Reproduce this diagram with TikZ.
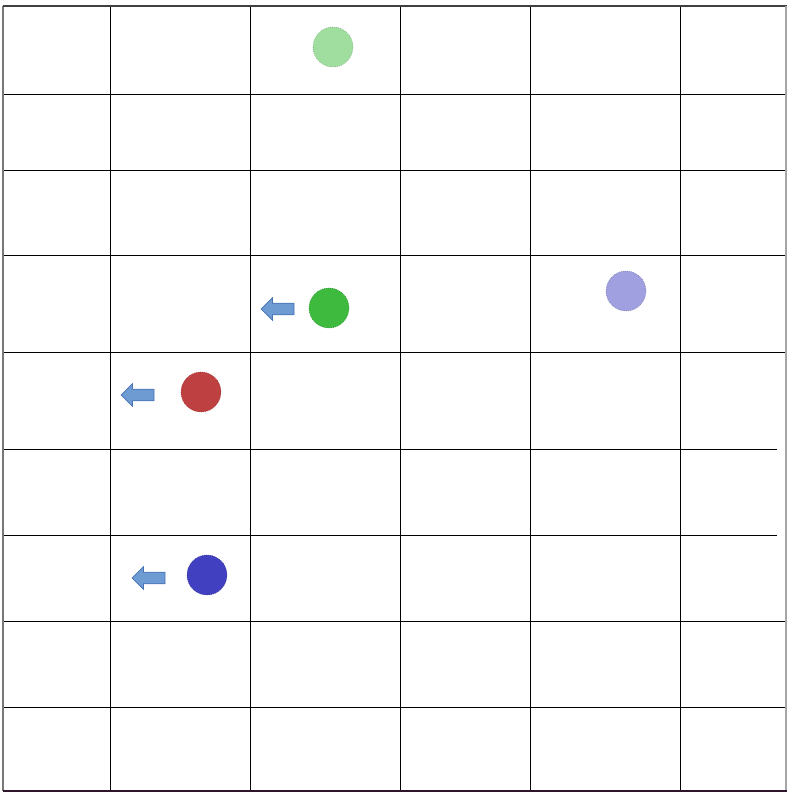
\documentclass[tikz,border=0pt]{standalone}
\usepackage{tikz}
\usetikzlibrary{shapes.arrows}
\definecolor{gridgray}{RGB}{120,120,120}
\definecolor{edgedark}{RGB}{48,20,44}
\definecolor{arrowblue}{RGB}{110,155,210}
\definecolor{arrowedge}{RGB}{70,115,180}
\definecolor{ballgreen}{RGB}{62,186,62}
\definecolor{ballpalegreen}{RGB}{160,222,160}
\definecolor{ballpurple}{RGB}{160,160,224}
\definecolor{ballred}{RGB}{190,64,64}
\definecolor{ballblue}{RGB}{64,64,192}

\tikzset{
  ball/.style={draw=#1!70!black, densely dotted, circle, fill=#1, minimum size=1cm, inner sep=0pt},
  move/.style={single arrow, shape border rotate=180, draw=arrowedge, fill=arrowblue,
    minimum height=23.4pt, inner sep=3.9pt, single arrow head extend=3.9pt, line width=0.5pt}
}

\begin{document}
\begin{tikzpicture}[x=0.025cm, y=-0.025cm]
  \useasboundingbox (0,0) rectangle (792,797);

  % Grid
  \foreach \gx in {110,250,400,530,680}
    \draw[line width=0.7pt] (\gx,6) -- (\gx,791);
  \foreach \gy in {94,170,255,352,621,707}
    \draw[line width=0.7pt] (3,\gy) -- (787,\gy);
  \foreach \gy in {449,535}
    \draw[line width=0.7pt] (3,\gy) -- (777,\gy);

  % Border
  \draw[gridgray, line width=1.2pt] (3,6) -- (3,791);
  \draw[black!75, line width=1.2pt] (3,6) -- (787,6);
  \draw[black!35, line width=0.8pt] (786,6) -- (786,791);
  \draw[edgedark, line width=1.6pt] (3,791) -- (787,791);

  % Balls
  \node[ball=ballpalegreen] (palegreen) at (333,47) {};
  \node[ball=ballgreen] (green) at (329,308) {};
  \node[ball=ballpurple] (purple) at (626,291) {};
  \node[ball=ballred] (red) at (201,392) {};
  \node[ball=ballblue] (blue) at (207,575) {};

  % Moves
  \node[move] (greenmove) at (280.5,309) {};
  \node[move] (redmove) at (140.5,395) {};
  \node[move] (bluemove) at (151.5,578) {};
\end{tikzpicture}
\end{document}
